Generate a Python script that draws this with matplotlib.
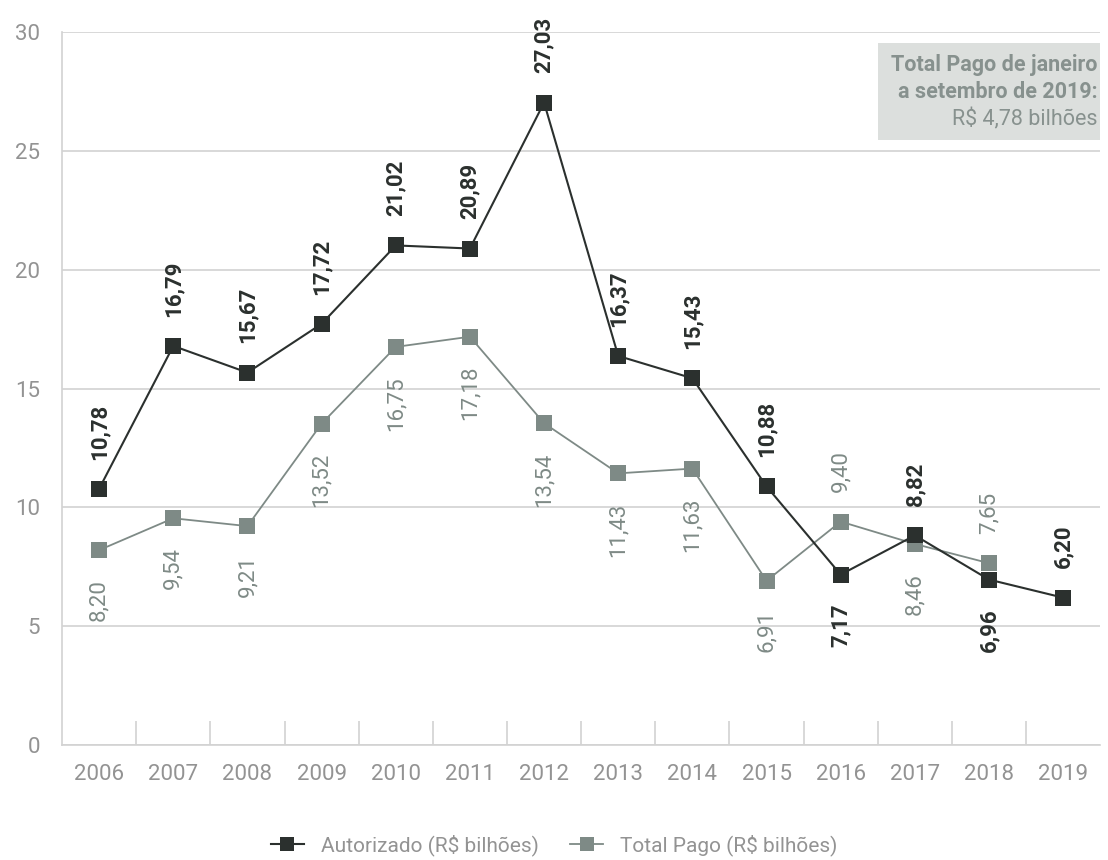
import numpy as np
import matplotlib.pyplot as plt
from matplotlib.patches import Rectangle

# Data
anos = ['2006', '2007', '2008', '2009', '2010', '2011', '2012',
        '2013', '2014', '2015', '2016', '2017', '2018', '2019']
autorizado = [10.78, 16.79, 15.67, 17.72, 21.02, 20.89, 27.03,
              16.37, 15.43, 10.88, 7.17, 8.82, 6.96, 6.20]
total_pago = [8.20, 9.54, 9.21, 13.52, 16.75, 17.18, 13.54,
              11.43, 11.63, 6.91, 9.40, 8.46, 7.65, np.nan]
# label goes above the point (True) or below (False)
aut_acima = [True] * 10 + [False, True, False, True]
pago_acima = [False] * 10 + [True, False, True, False]

cor_aut = '#2b302e'
cor_pago = '#7e8a86'
cor_txt = '#939393'
cor_grid = '#d2d2d2'

plt.rcParams['font.family'] = ['Roboto', 'DejaVu Sans']

fig = plt.figure(figsize=(11.08, 8.6), dpi=100)
ax = fig.add_axes([0.056, 0.1337, 0.937, 0.8291])

x = np.arange(len(anos))
ax.plot(x, total_pago, color=cor_pago, lw=1.3, marker='s', ms=12,
        markeredgewidth=0, label='Total Pago (R$ bilhões)', zorder=3)
ax.plot(x, autorizado, color=cor_aut, lw=1.5, marker='s', ms=12,
        markeredgewidth=0, label='Autorizado (R$ bilhões)', zorder=4)

# data labels, rotated 90 degrees
def rotulos(valores, acima, cor, peso):
    for xi, v, up in zip(x, valores, acima):
        if np.isnan(v):
            continue
        txt = f'{v:.2f}'.replace('.', ',')
        ax.annotate(txt, (xi, v), xytext=(0, 21 if up else -21),
                    textcoords='offset points', rotation=90,
                    ha='center', va='bottom' if up else 'top',
                    fontsize=16, color=cor, fontweight=peso, zorder=5)

rotulos(autorizado, aut_acima, cor_aut, 'bold')
rotulos(total_pago, pago_acima, cor_pago, 'normal')

# axes styling
ax.set_xlim(-0.5, len(anos) - 0.5)
ax.set_ylim(0, 30)
ax.set_yticks([0, 5, 10, 15, 20, 25, 30])
ax.set_xticks(x)
ax.set_xticklabels(anos)
ax.set_xticks(np.arange(0.5, len(anos) - 1, 1), minor=True)
ax.tick_params(axis='x', which='major', length=0, pad=14,
               labelsize=16, labelcolor=cor_txt)
ax.tick_params(axis='x', which='minor', direction='in', length=17,
               width=1.2, color=cor_grid)
ax.tick_params(axis='y', length=0, pad=16, labelsize=16, labelcolor=cor_txt)
ax.grid(axis='y', color=cor_grid, lw=1.2)
ax.set_axisbelow(True)
for s in ['top', 'right']:
    ax.spines[s].set_visible(False)
for s in ['left', 'bottom']:
    ax.spines[s].set_color(cor_grid)
    ax.spines[s].set_linewidth(1.2)

# note box in the upper right corner
ax.add_patch(Rectangle((0.786, 0.8485), 0.214, 0.136, transform=ax.transAxes,
                       facecolor='#dcdfdd', edgecolor='none', zorder=2))
ax.text(0.997, 0.954, 'Total Pago de janeiro', transform=ax.transAxes,
        ha='right', va='center', fontsize=15.5, fontweight='bold',
        color='#87918e', zorder=3)
ax.text(0.997, 0.916, 'a setembro de 2019:', transform=ax.transAxes,
        ha='right', va='center', fontsize=15.5, fontweight='bold',
        color='#87918e', zorder=3)
ax.text(0.997, 0.877, 'R$ 4,78 bilhões', transform=ax.transAxes,
        ha='right', va='center', fontsize=15.5, color='#87918e', zorder=3)

handles, labels = ax.get_legend_handles_labels()
leg = fig.legend(handles[::-1], labels[::-1], loc='center',
                 bbox_to_anchor=(0.5, 0.017), ncol=2, frameon=False,
                 fontsize=15, handlelength=1.6,
                 columnspacing=1.5, markerscale=0.8)
for t in leg.get_texts():
    t.set_color(cor_txt)

plt.savefig('out.png', dpi=100)
